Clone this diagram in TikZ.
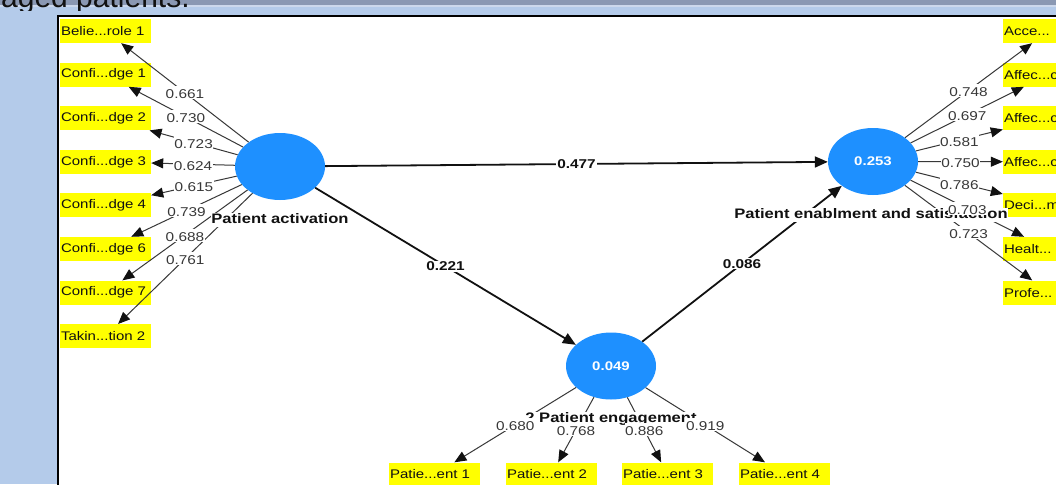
\documentclass[tikz,border=0pt]{standalone}
\usepackage{fontspec}
\setmainfont{Liberation Sans}[FakeStretch=1.2]
\newfontfamily\titlefont{Liberation Sans}
\usetikzlibrary{arrows.meta,positioning,shapes.geometric}
\definecolor{ink}{HTML}{111111}
\definecolor{muted}{HTML}{383838}
\definecolor{slide}{HTML}{B4CBEA}
\definecolor{titleband}{HTML}{8A98B3}
\definecolor{bandline}{HTML}{CCD8EC}
\definecolor{latentblue}{HTML}{1E90FF}
\definecolor{indyellow}{HTML}{FFFF00}
\tikzset{
  indicator/.style={fill=indyellow,minimum width=91pt,minimum height=24pt,text width=89pt,inner sep=1pt,align=left,font=\fontsize{12.5}{14}\selectfont,text=ink},
  latent/.style={ellipse,fill=latentblue,minimum width=90pt,minimum height=67pt,inner sep=0pt,font=\fontsize{12.5}{14}\selectfont\bfseries,text=white},
  lvname/.style={fill=white,inner sep=0.5pt,text height=10pt,text depth=3pt,font=\fontsize{13.8}{15}\selectfont\bfseries,text=ink},
  loading/.style={-{Triangle[length=12pt,width=10pt,color=ink]},line width=1pt,draw=muted},
  weight/.style={fill=white,inner sep=0.5pt,text height=12pt,text depth=0pt,font=\fontsize{12.8}{14}\selectfont,text=muted},
  structural/.style={-{Triangle[length=13pt,width=11pt]},line width=1.8pt,draw=ink},
  coef/.style={fill=white,inner sep=1pt,font=\fontsize{12.8}{14}\selectfont\bfseries,text=ink}
}
\begin{document}
\begin{tikzpicture}[x=1pt,y=-1pt]
    \useasboundingbox (0,0) rectangle (1056,484);
    \clip (0,0) rectangle (1056,484);
    % slide behind the screenshot
    \fill[slide] (0,0) rectangle (1056,484);
    \fill[titleband] (0,0) rectangle (1056,5.5);
    \fill[bandline] (0,5.5) rectangle (1056,7.5);
    \begin{scope}
      \clip (0,0) rectangle (1056,10.5);
      \node[anchor=base west,inner sep=0pt,font=\titlefont\fontsize{30}{34}\selectfont,text=ink] (title) at (1,7.5) {aged patients.};
    \end{scope}
    \draw[line width=2pt,fill=white] (58,16) rectangle (1070,500);

    % indicators
    \node[indicator] (a1) at (105.5,31) {Belie...role 1};
    \node[indicator] (a2) at (105.5,74.6) {Confi...dge 1};
    \node[indicator] (a3) at (105.5,118.2) {Confi...dge 2};
    \node[indicator] (a4) at (105.5,161.8) {Confi...dge 3};
    \node[indicator] (a5) at (105.5,205.4) {Confi...dge 4};
    \node[indicator] (a6) at (105.5,249) {Confi...dge 6};
    \node[indicator] (a7) at (105.5,292.6) {Confi...dge 7};
    \node[indicator] (a8) at (105.5,336.2) {Takin...tion 2};
    \node[indicator] (s1) at (1048.5,31) {Acce...};
    \node[indicator] (s2) at (1048.5,74.6) {Affec...c};
    \node[indicator] (s3) at (1048.5,118.2) {Affec...c};
    \node[indicator] (s4) at (1048.5,161.8) {Affec...c};
    \node[indicator] (s5) at (1048.5,205.4) {Deci...m};
    \node[indicator] (s6) at (1048.5,249) {Healt...};
    \node[indicator] (s7) at (1048.5,292.6) {Profe...};
    \node[indicator] (e1) at (434.5,474.5) {Patie...ent 1};
    \node[indicator] (e2) at (551.5,474.5) {Patie...ent 2};
    \node[indicator] (e3) at (667.5,474.5) {Patie...ent 3};
    \node[indicator] (e4) at (784.5,474.5) {Patie...ent 4};

    % constructs
    \node[latent] (activation) at (280,166.5) {};
    \node[latent] (enablement) at (873,161.5) {0.253};
    \node[latent] (engagement) at (611,366) {0.049};

    \draw[structural] (activation) -- node[coef] {0.477} (enablement);
    \draw[structural] (activation) -- node[coef] {0.221} (engagement);
    \draw[structural] (engagement) -- node[coef] {0.086} (enablement);

    \draw[loading] (activation) -- (a1);
    \draw[loading] (activation) -- (a2);
    \draw[loading] (activation) -- (a3);
    \draw[loading] (activation) -- (a4);
    \draw[loading] (activation) -- (a5);
    \draw[loading] (activation) -- (a6);
    \draw[loading] (activation) -- (a7);
    \draw[loading] (activation) -- (a8);
    \draw[loading] (enablement) -- (s1);
    \draw[loading] (enablement) -- (s2);
    \draw[loading] (enablement) -- (s3);
    \draw[loading] (enablement) -- (s4);
    \draw[loading] (enablement) -- (s5);
    \draw[loading] (enablement) -- (s6);
    \draw[loading] (enablement) -- (s7);
    \draw[loading] (engagement) -- (e1);
    \draw[loading] (engagement) -- (e2);
    \draw[loading] (engagement) -- (e3);
    \draw[loading] (engagement) -- (e4);

    \node[lvname,below=12.5pt of activation] (activationname) {Patient activation};
    \node[lvname,below=12.5pt of enablement,xshift=-2pt] (enablementname) {Patient enablment and satisfaction};
    \node[lvname,below=12.5pt of engagement] (engagementname) {2 Patient engagement};

    % outer weights on top of the names
    \path (activation) -- node[weight] {0.661} (a1);
    \path (activation) -- node[weight] {0.730} (a2);
    \path (activation) -- node[weight] {0.723} (a3);
    \path (activation) -- node[weight] {0.624} (a4);
    \path (activation) -- node[weight] {0.615} (a5);
    \path (activation) -- node[weight] {0.739} (a6);
    \path (activation) -- node[weight] {0.688} (a7);
    \path (activation) -- node[weight] {0.761} (a8);
    \path (enablement) -- node[weight] {0.748} (s1);
    \path (enablement) -- node[weight] {0.697} (s2);
    \path (enablement) -- node[weight] {0.581} (s3);
    \path (enablement) -- node[weight] {0.750} (s4);
    \path (enablement) -- node[weight] {0.786} (s5);
    \path (enablement) -- node[weight] {0.703} (s6);
    \path (enablement) -- node[weight] {0.723} (s7);
    \path (engagement) -- node[weight] {0.680} (e1);
    \path (engagement) -- node[weight] {0.768} (e2);
    \path (engagement) -- node[weight] {0.886} (e3);
    \path (engagement) -- node[weight] {0.919} (e4);
\end{tikzpicture}
\end{document}
